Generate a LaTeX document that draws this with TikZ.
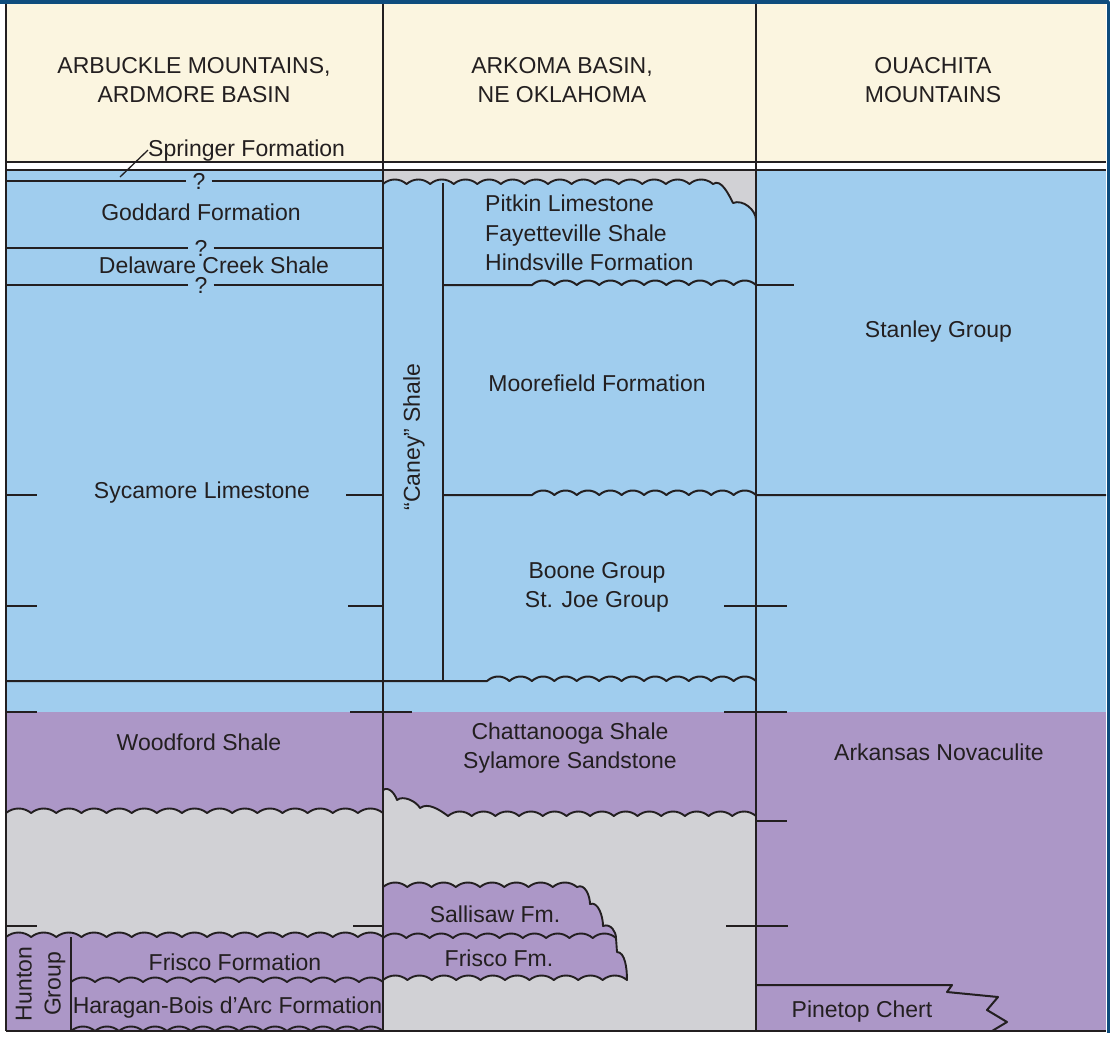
\documentclass[tikz,border=0pt]{standalone}
\usepackage{fontspec}
\setmainfont{Liberation Sans}
\usepackage{tikz}
\usetikzlibrary{calc}

\definecolor{hdrcream}{HTML}{FBF5E0}
\definecolor{mississ}{HTML}{A0CDEE}
\definecolor{devon}{HTML}{AC97C7}
\definecolor{hiatus}{HTML}{D1D1D5}
\definecolor{ink}{HTML}{231F20}
\definecolor{rim}{HTML}{0E4C7D}

% scalloped unconformity: #1 arches of width #2, going right / going left
\def\scalR#1#2{\foreach \k in {1,...,#1}{ .. controls +(0.3*#2,-6) and +(-0.3*#2,-6) .. ++(#2,0)}}
\def\scalL#1#2{\foreach \k in {1,...,#1}{ .. controls +(-0.3*#2,-6) and +(0.3*#2,-6) .. ++(-#2,0)}}

\tikzset{
  unit/.style={font=\fontsize{23}{29}\selectfont, text=ink, inner sep=0pt, align=center},
  qm/.style={font=\fontsize{23}{29}\selectfont, text=ink, inner xsep=6pt, inner ysep=0pt},
  frame/.style={draw=ink, line width=2.7pt},
  bed/.style={draw=ink, line width=2pt},
  wav/.style={draw=ink, line width=1.9pt},
}

\begin{document}
\begin{tikzpicture}[x=1pt,y=-1pt,line join=round]
		%%%%% START %%%%%
		\useasboundingbox (0,0) rectangle (1110,1036);
		\fill[white] (0,0) rectangle (1110,1036);
		
		\fill[hdrcream] (6,3) rectangle (1106,162);
		\fill[mississ] (6,170) rectangle (1106,712);
		\fill[devon] (6,712) rectangle (1106,1031);
		
		% Arbuckle / Ardmore
		\path[fill=hiatus, wav] (6,813) \scalR{15}{25.133} -- (383,937) \scalL{15}{25.133} -- cycle;
		\draw[wav] (71,982) \scalR{13}{24};
		\draw[wav] (71,1031) \scalR{13}{24};
		\draw[bed] (71,937) -- (71,1031);
		
		% Arkoma
		\path[fill=hiatus, wav] (383,170) -- (756,170) -- (756,220) .. controls +(0,-10) and +(10,-4) .. (733,203) .. controls +(-4,-8) and +(8,-6) .. (713,184) \scalL{14}{23.571} -- cycle;
		\path[fill=hiatus, wav] (383,790) .. controls +(6,-4) and +(-2,-6) .. (397,800) .. controls +(6,-5) and +(-4,-7) .. (420,808) .. controls +(8,-6) and +(-8,-6) .. (448,816) \scalR{13}{23.69} -- (756,1031) -- (383,1031) -- cycle;
		\path[fill=devon, wav] (383,887) \scalR{8}{24.25} .. controls +(8,-4) and +(0,-8) .. (590,904) .. controls +(8,-3) and +(0,-10) .. (603,926) .. controls +(8,-3) and +(0,-6) .. (616,938) -- (617,952) .. controls +(8,0) and +(0,-12) .. (627,980) \scalL{10}{24.4} -- cycle;
		\draw[wav] (383,938) \scalR{10}{23.3};
		
		\draw[bed] (443,183) -- (443,681);
		\draw[bed] (443,285) -- (532,285) \scalR{10}{22.4};
		\draw[bed] (443,495) -- (532,495) \scalR{10}{22.4} -- (1106,495);
		\draw[bed] (6,681) -- (487,681) \scalR{12}{22.42};
		
		% queried contacts
		\node[qm] (q1) at (199,181) {?};
		\node[qm] (q2) at (201,248) {?};
		\node[qm] (q3) at (201,285) {?};
		\draw[bed] (6,181) -- (q1.west) (q1.east) -- (383,181);
		\draw[bed] (6,248) -- (q2.west) (q2.east) -- (383,248);
		\draw[bed] (6,285) -- (q3.west) (q3.east) -- (383,285);
		
		% ticks
		\foreach \y in {495,606,712,926} \draw[bed] (6,\y) -- (37,\y);
		\draw[bed] (346,495) -- (383,495);
		\draw[bed] (348,606) -- (383,606);
		\draw[bed] (350,712) -- (412,712);
		\draw[bed] (353,926) -- (383,926);
		\draw[bed] (724,606) -- (787,606);
		\draw[bed] (724,712) -- (787,712);
		\draw[bed] (726,926) -- (788,926);
		\draw[bed] (756,821) -- (787,821);
		\draw[bed] (756,285) -- (794,285);
		
		% Ouachita
		\draw[bed] (756,985) -- (952,985) -- (947,992) -- (998,997) -- (987,1010) -- (1007,1022) -- (992,1031);
		
		% frame
		\draw[frame] (6,162) -- (1106,162) (6,170) -- (1106,170) (6,1031) -- (1106,1031);
		\draw[frame] (6,3) -- (6,1031) (383,3) -- (383,1031) (756,3) -- (756,1031);
		\draw[rim, line width=3.5pt] (0,1.75) -- (1108.25,1.75) -- (1108.25,1033);
		
		% labels
		\node[unit] (hArb) at (194,80) {ARBUCKLE MOUNTAINS,\\ARDMORE BASIN};
		\node[unit] (hArk) at (562,80) {ARKOMA BASIN,\\NE OKLAHOMA};
		\node[unit] (hOua) at (933,80) {OUACHITA\\MOUNTAINS};
		
		\node[unit, anchor=base west] (spr) at (148,156) {Springer Formation};
		\coordinate (sprfoot) at (120,177);
		\draw[ink, line width=1.3pt] (sprfoot) -- (spr.west);
		\node[unit, anchor=base] (godd) at (201,220) {Goddard Formation};
		\node[unit, anchor=base] (dela) at (214,273) {Delaware Creek Shale};
		\node[unit, anchor=base] (syca) at (202,498) {Sycamore Limestone};
		\node[unit, anchor=base] (wood) at (199,750) {Woodford Shale};
		\node[unit, rotate=90] (hunt) at (40.6,984) {Hunton\\Group};
		\node[unit, anchor=base] (fris) at (235,970) {Frisco Formation};
		\node[unit, anchor=base] (hara) at (227.5,1013) {Haragan-Bois d’Arc Formation};
		
		\node[unit, rotate=90] (caney) at (414,437) {“Caney” Shale};
		\node[unit, align=left, anchor=west, font=\fontsize{23}{29.5}\selectfont] (pitk) at (485,233) {Pitkin Limestone\\Fayetteville Shale\\Hindsville Formation};
		\node[unit, anchor=base] (moor) at (597,391) {Moorefield Formation};
		\node[unit] (boon) at (597,587) {Boone Group\\St. Joe Group};
		\node[unit] (chat) at (570,748) {Chattanooga Shale\\Sylamore Sandstone};
		\node[unit, anchor=base] (sall) at (495,922) {Sallisaw Fm.};
		\node[unit, anchor=base] (frfm) at (499,966) {Frisco Fm.};
		
		\node[unit, anchor=base] (stan) at (938.5,337) {Stanley Group};
		\node[unit, anchor=base] (arka) at (939,760) {Arkansas Novaculite};
		\node[unit, anchor=base] (pine) at (862,1017) {Pinetop Chert};
		%%%%% END %%%%%
\end{tikzpicture}
\end{document}
